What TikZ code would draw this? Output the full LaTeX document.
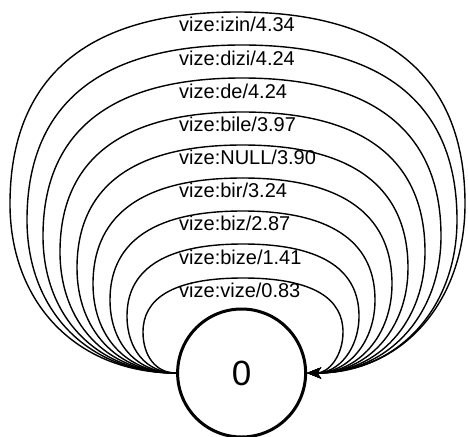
\documentclass[tikz,border=0pt]{standalone}
\usepackage{fontspec}
\setmainfont{Liberation Sans}
\usetikzlibrary{arrows.meta}
\begin{document}
\begin{tikzpicture}[x=1pt,y=-1pt,
  state/.style={circle,draw,line width=3pt,minimum size=128pt,inner sep=0pt,
                font=\fontsize{35}{40}\selectfont},
  arc label/.style={anchor=base west,inner sep=0pt,font=\fontsize{20}{23}\selectfont},
  self loop/.style={line width=1.4pt,-{Stealth[length=14pt,width=11pt,inset=4pt]}}]
\useasboundingbox (0,0) rectangle (468,436);
\node[state] (q0) at (241.6,373) {0};
% self loops: top y / left x / right x / y of the widest point / label / baseline
\foreach \t/\xl/\xr/\ye/\lab/\bl [count=\i] in {
  278/143/343/332/{vize:vize/0.83}/297,
  244/127/359/316/{vize:bize/1.41}/264,
  211/110/375/300/{vize:biz/2.87}/230,
  178/93/392/284/{vize:bir/3.24}/197,
  145/77/408/268/{vize:NULL/3.90}/164,
  112/60/425/252/{vize:bile/3.97}/131,
  78/43/441/236/{vize:de/4.24}/98,
  45/27/457/220/{vize:dizi/4.24}/65,
  12/10/465/204/{vize:izin/4.34}/32}{
  \pgfmathsetmacro\m{(\xl+\xr)/2}
  \pgfmathsetmacro\al{0.6*(177-\xl)}
  \pgfmathsetmacro\ar{0.6*(\xr-307)}
  \pgfmathsetmacro\bb{0.58*(373-\ye)}
  \pgfmathsetmacro\vy{\ye-0.6*(\ye-\t)}
  \pgfmathsetmacro\hl{\m-0.72*(\m-\xl)}
  \pgfmathsetmacro\hr{\m+0.72*(\xr-\m)}
  \draw[self loop] (q0.west)
    .. controls ([xshift=-\al pt]q0.west) and (\xl,\ye+\bb) .. (\xl,\ye)
    .. controls (\xl,\vy) and (\hl,\t) .. (\m,\t)
    .. controls (\hr,\t) and (\xr,\vy) .. (\xr,\ye)
    .. controls (\xr,\ye+\bb) and ([xshift=\ar pt]q0.east) .. (q0.east);
  \node[arc label] (lab\i) at (179,\bl) {\lab};
}
\end{tikzpicture}
\end{document}
